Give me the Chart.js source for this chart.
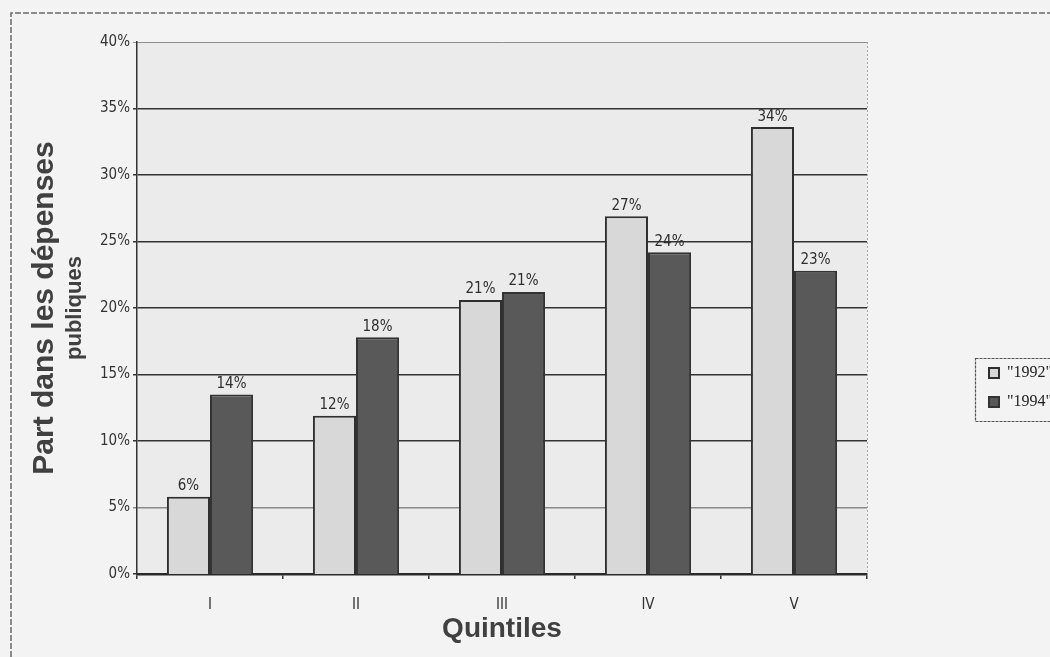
<!DOCTYPE html>
<html lang="fr">
<head>
<meta charset="utf-8">
<title>Part dans les dépenses publiques par quintile</title>
<script src="https://cdn.jsdelivr.net/npm/chart.js@4/dist/chart.umd.min.js"></script>
<style>
  html, body { margin: 0; padding: 0; background: #f3f3f3; }
  #wrap { position: relative; width: 1050px; height: 657px; }
</style>
</head>
<body>
<div id="wrap"><canvas id="chart" width="1050" height="657"></canvas></div>
<script>
// Quintiles de revenu
const quintiles = ['I', 'II', 'III', 'IV', 'V'];
// Part (%) de chaque quintile dans les dépenses publiques
const part1992 = [5.8, 11.9, 20.6, 26.9, 33.6];
const part1994 = [13.5, 17.8, 21.2, 24.2, 22.8];
const seriesNames = ['"1992"', '"1994"'];
// Graduations de l'axe vertical (%)
const yMin = 0, yMax = 40, yStep = 5;
// Titre de l'axe vertical, sur deux lignes
const yTitleLines = ['Part dans les dépenses', 'publiques'];

const NARROW = '"DejaVu Sans Condensed", "Liberation Sans Narrow", "Liberation Sans", sans-serif';
const BOLD = '"Liberation Sans", Arial, sans-serif';

// Fond de la zone de tracé, cadre extérieur et bord droit pointillé
const framePlugin = {
  id: 'frame',
  beforeDraw(chart) {
    const { ctx, chartArea: a } = chart;
    ctx.save();
    ctx.fillStyle = '#ebebeb';
    ctx.fillRect(a.left, a.top, a.right - a.left, a.bottom - a.top);
    // cadre du graphique
    ctx.strokeStyle = '#6a6a6a';
    ctx.lineWidth = 1.5;
    ctx.setLineDash([6, 2]);
    ctx.beginPath();
    ctx.moveTo(11, 657);
    ctx.lineTo(11, 13);
    ctx.lineTo(1050, 13);
    ctx.stroke();
    // bord droit de la zone de tracé
    ctx.strokeStyle = '#a8a8a8';
    ctx.lineWidth = 1;
    ctx.setLineDash([2, 2]);
    ctx.beginPath();
    ctx.moveTo(a.right + 0.5, a.top);
    ctx.lineTo(a.right + 0.5, a.bottom);
    ctx.stroke();
    ctx.restore();
  }
};

// Étiquettes de valeur au-dessus des barres
const valueLabels = {
  id: 'valueLabels',
  afterDatasetsDraw(chart) {
    const { ctx } = chart;
    ctx.save();
    ctx.font = '15px ' + NARROW;
    ctx.fillStyle = '#2e2e2e';
    ctx.textAlign = 'center';
    ctx.textBaseline = 'bottom';
    chart.data.datasets.forEach((ds, i) => {
      chart.getDatasetMeta(i).data.forEach((bar, j) => {
        ctx.fillText(Math.round(ds.data[j]) + '%', bar.x, bar.y - 3);
      });
    });
    ctx.restore();
  }
};

// Légende placée à droite, encadrée
const legendBox = {
  id: 'legendBox',
  afterLayout(chart) {
    const lg = chart.legend;
    lg.left = 976;
    lg.right = 1050;
    lg.top = 352;
    lg.bottom = 460;
  },
  afterDraw(chart) {
    const { ctx } = chart;
    const lg = chart.legend;
    ctx.save();
    ctx.strokeStyle = '#555';
    ctx.lineWidth = 1.2;
    ctx.setLineDash([3, 1]);
    ctx.strokeRect(lg.left - 0.5, 358.5, 100, 63);
    ctx.restore();
  }
};

new Chart(document.getElementById('chart'), {
  type: 'bar',
  data: {
    labels: quintiles,
    datasets: [
      {
        label: seriesNames[0],
        data: part1992,
        backgroundColor: '#d8d8d8',
        borderColor: '#2f2f2f',
        borderWidth: 2
      },
      {
        label: seriesNames[1],
        data: part1994,
        backgroundColor: '#595959',
        borderColor: '#333333',
        borderWidth: 2
      }
    ]
  },
  options: {
    responsive: false,
    animation: false,
    devicePixelRatio: 1,
    layout: { padding: { left: 14, top: 42, right: 183, bottom: 0 } },
    datasets: { bar: { categoryPercentage: 0.59, barPercentage: 1.0 } },
    plugins: {
      title: { display: false },
      tooltip: { enabled: false },
      legend: {
        display: true,
        position: 'chartArea',
        align: 'start',
        labels: {
          boxWidth: 10,
          boxHeight: 10,
          padding: 13,
          color: '#222',
          font: { family: '"Liberation Serif", "DejaVu Serif", serif', size: 16 }
        }
      }
    },
    scales: {
      x: {
        offset: true,
        grid: {
          offset: true,
          drawOnChartArea: false,
          drawTicks: true,
          tickLength: 5,
          color: '#333',
          lineWidth: 1.5
        },
        border: { display: true, color: '#2a2a2a', width: 2.5 },
        ticks: {
          color: '#333',
          padding: 17,
          font: { family: NARROW, size: 15 }
        },
        title: {
          display: true,
          text: 'Quintiles',
          color: '#404040',
          font: { family: BOLD, size: 28, weight: 'bold', lineHeight: 1.1 },
          padding: { top: 0, bottom: 12 }
        },
        afterFit(s) { s.height = 83; }
      },
      // première ligne du titre vertical, à l'extérieur de l'axe
      yTitle: {
        type: 'linear',
        position: 'left',
        weight: 5,
        min: yMin,
        max: yMax,
        grid: { display: false },
        border: { display: false },
        ticks: { display: false },
        title: {
          display: true,
          text: yTitleLines[0],
          color: '#404040',
          font: { family: BOLD, size: 30, weight: 'bold', lineHeight: 1.0 },
          padding: { top: 16, bottom: 0 }
        },
        afterFit(s) { s.width = 48; }
      },
      y: {
        position: 'left',
        weight: 0,
        min: yMin,
        max: yMax,
        grid: {
          drawTicks: true,
          tickLength: 4,
          color: (c) => c.tick && c.tick.value === yMax ? '#8f8f8f'
                       : c.tick && c.tick.value === 5 ? '#8a8a8a' : '#333',
          lineWidth: (c) => c.tick && c.tick.value === yMax ? 1 : 1.5
        },
        border: { display: true, color: '#333', width: 1.5 },
        ticks: {
          stepSize: yStep,
          color: '#333',
          padding: 3,
          font: { family: NARROW, size: 15 },
          callback: (v) => v + '%'
        },
        title: {
          display: true,
          text: yTitleLines[1],
          color: '#404040',
          font: { family: BOLD, size: 22, weight: 'bold', lineHeight: 1.1 },
          padding: { top: 1, bottom: 0 }
        },
        afterFit(s) { s.width = 75; }
      }
    }
  },
  plugins: [framePlugin, valueLabels, legendBox]
});
</script>
</body>
</html>
